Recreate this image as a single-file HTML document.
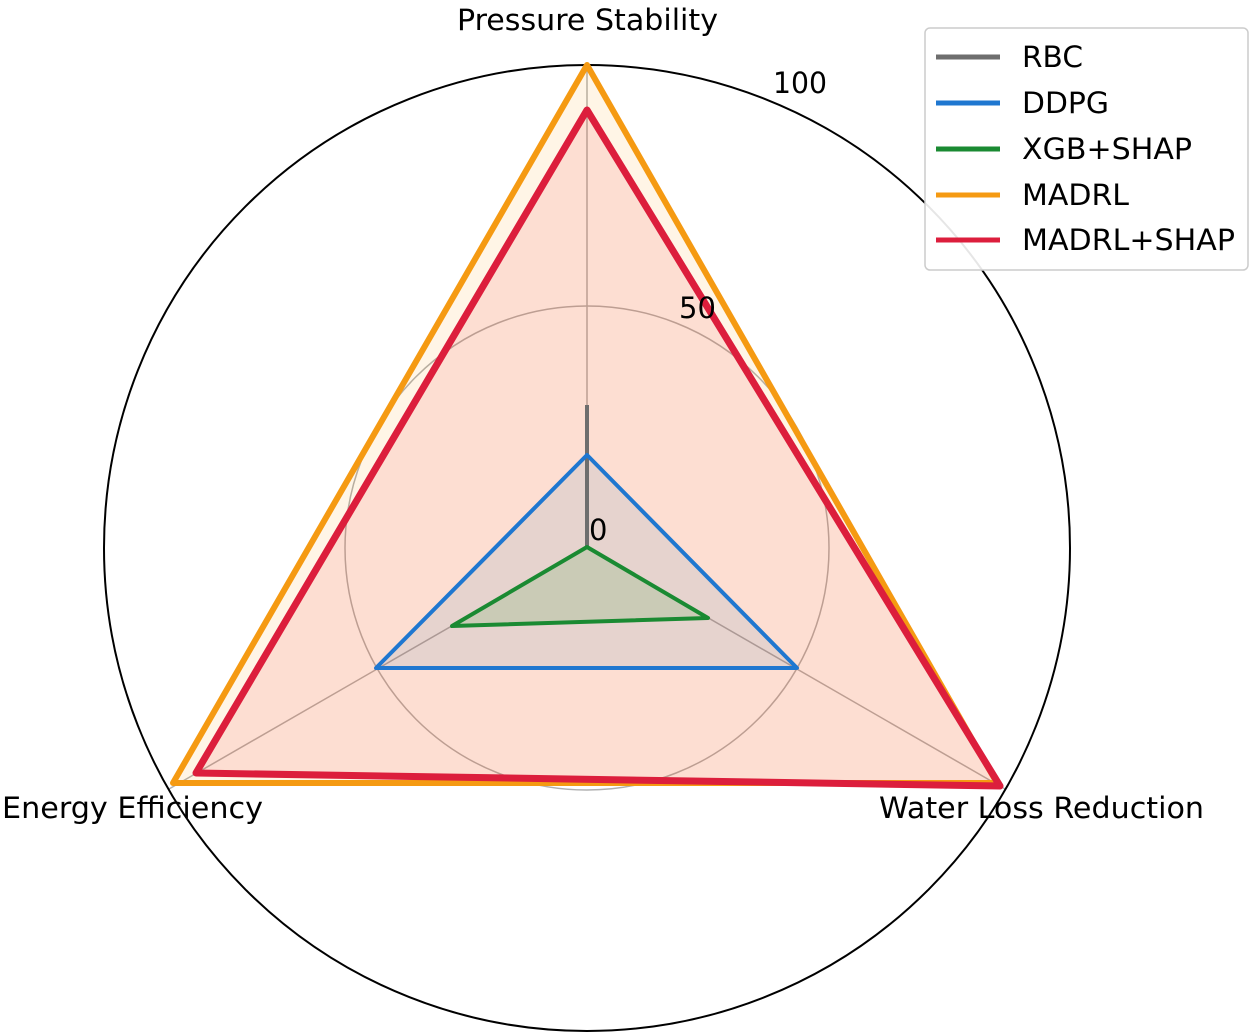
<!DOCTYPE html>
<html><head><meta charset="utf-8"><style>
html,body{margin:0;padding:0;background:#fff;}
svg{display:block;font-family:"DejaVu Sans","Liberation Sans",sans-serif;}
</style></head><body>
<svg width="1255" height="1036" viewBox="0 0 1255 1036">
<g fill="none">
<circle cx="587" cy="548" r="242" stroke="#b0b0b0" stroke-width="1.5"/>
<line x1="587" y1="548" x2="587" y2="65" stroke="#b0b0b0" stroke-width="1.5"/>
<line x1="587" y1="548" x2="1005" y2="789" stroke="#b0b0b0" stroke-width="1.5"/>
<line x1="587" y1="548" x2="169" y2="789" stroke="#b0b0b0" stroke-width="1.5"/>
<circle cx="587" cy="548" r="483" stroke="#000" stroke-width="2"/>
</g>
<polygon points="587,65 997,783 173,783" fill="#ff9f0e" fill-opacity="0.1"/>
<polygon points="587,110 1000,786 196,773" fill="#e8182b" fill-opacity="0.1"/>
<polygon points="587,455 797,668 376,668" fill="#1f77b4" fill-opacity="0.1"/>
<polygon points="587,547 708,618 452,626" fill="#2ca02c" fill-opacity="0.15"/>
<line x1="587" y1="548" x2="587" y2="405" stroke="#6e6e6e" stroke-width="4"/>
<polygon points="587,455 797,668 376,668" fill="none" stroke="#1f77d0" stroke-width="4" stroke-linejoin="round"/>
<polygon points="587,547 708,618 452,626" fill="none" stroke="#1a8a32" stroke-width="4" stroke-linejoin="round"/>
<polygon points="587,65 997,783 173,783" fill="none" stroke="#f59a12" stroke-width="6" stroke-linejoin="round"/>
<polygon points="587,110 1000,786 196,773" fill="none" stroke="#dc1e3c" stroke-width="7" stroke-linejoin="round"/>
<g font-size="29" fill="#000">
<text x="457" y="30" textLength="261" lengthAdjust="spacingAndGlyphs">Pressure Stability</text>
<text x="2" y="818" textLength="261" lengthAdjust="spacingAndGlyphs">Energy Efficiency</text>
<text x="879" y="818" textLength="325" lengthAdjust="spacingAndGlyphs">Water Loss Reduction</text>
<text x="773" y="93" textLength="54" lengthAdjust="spacingAndGlyphs">100</text>
<text x="679" y="318">50</text>
<text x="589" y="540">0</text>
</g>
<rect x="925" y="28" width="323" height="242" rx="5" fill="#fff" fill-opacity="0.9" stroke="#ccc" stroke-width="1.5"/>
<g stroke-width="5">
<line x1="936" y1="57" x2="1000" y2="57" stroke="#6e6e6e"/>
<line x1="936" y1="103" x2="1000" y2="103" stroke="#1f77d0"/>
<line x1="936" y1="149" x2="1000" y2="149" stroke="#1a8a32"/>
<line x1="936" y1="195" x2="1000" y2="195" stroke="#f59a12"/>
<line x1="936" y1="240" x2="1000" y2="240" stroke="#dc1e3c"/>
</g>
<g font-size="29" fill="#000">
<text x="1022" y="67" textLength="61" lengthAdjust="spacingAndGlyphs">RBC</text>
<text x="1022" y="113" textLength="87" lengthAdjust="spacingAndGlyphs">DDPG</text>
<text x="1022" y="159" textLength="170" lengthAdjust="spacingAndGlyphs">XGB+SHAP</text>
<text x="1022" y="205" textLength="107" lengthAdjust="spacingAndGlyphs">MADRL</text>
<text x="1022" y="250" textLength="213" lengthAdjust="spacingAndGlyphs">MADRL+SHAP</text>
</g>
</svg>
</body></html>
